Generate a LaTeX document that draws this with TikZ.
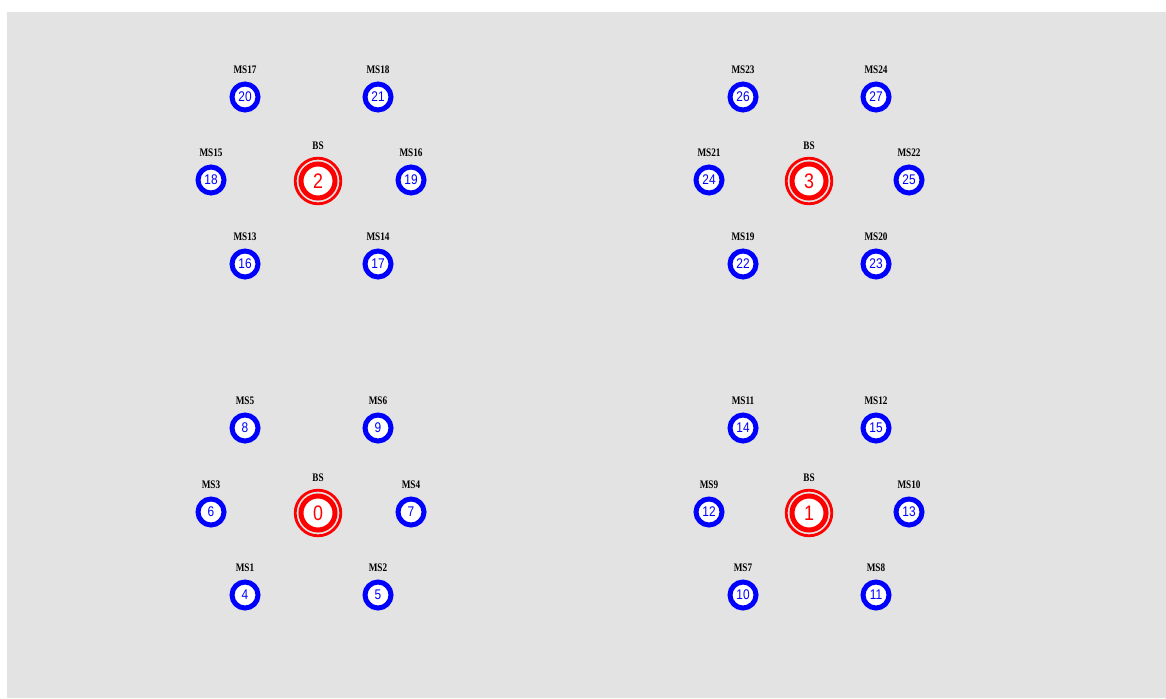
\documentclass[tikz,border=0pt]{standalone}
\usepackage{fontspec}
\setmainfont{Liberation Sans}
\newfontfamily\lblfont[FakeStretch=0.8]{Liberation Serif}
\newfontfamily\numfont[FakeStretch=0.85]{Liberation Sans}
\begin{document}
\begin{tikzpicture}[x=1pt,y=-1pt,
  ms/.style={circle,draw=blue,fill=white,line width=5pt,minimum size=26pt,inner sep=0pt,
    text=blue,font=\numfont\fontsize{14}{14}\selectfont},
  bs/.style={circle,draw=red,fill=white,line width=5pt,minimum size=34pt,inner sep=0pt,
    text=red,font=\numfont\fontsize{21}{21}\selectfont},
  bsring/.style={draw=red,line width=2.8pt},
  lbl/.style={font=\lblfont\fontsize{11.5}{12}\bfseries\selectfont,text=black,inner sep=0pt}]
\useasboundingbox (0,0) rectangle (1166,698);
\fill[white] (0,0) rectangle (1166,698);
\fill[fill={rgb,255:red,227;green,227;blue,227}] (7,12) rectangle (1166,698);
% base stations
\foreach \n/\x/\y in {2/318/181,3/809/181,0/318/513,1/809/513}{
  \draw[bsring] (\x,\y) circle[radius=22.8];
  \node[bs] (bs\n) at (\x,\y) {\n};
  \node[lbl] (bsl\n) at (\x,\y-35) {BS};
}
% mobile stations: node number / MS label / x / y
\foreach \n/\m/\x/\y in {
  20/17/245/97, 21/18/378/97, 18/15/211/180, 19/16/411/180, 16/13/245/264, 17/14/378/264,
  26/23/743/97, 27/24/876/97, 24/21/709/180, 25/22/909/180, 22/19/743/264, 23/20/876/264,
  8/5/245/428, 9/6/378/428, 6/3/211/512, 7/4/411/512, 4/1/245/595, 5/2/378/595,
  14/11/743/428, 15/12/876/428, 12/9/709/512, 13/10/909/512, 10/7/743/595, 11/8/876/595}{
  \node[ms] (n\n) at (\x,\y) {\n};
  \node[lbl] (l\n) at (\x,\y-27) {MS\m};
}
\end{tikzpicture}
\end{document}
